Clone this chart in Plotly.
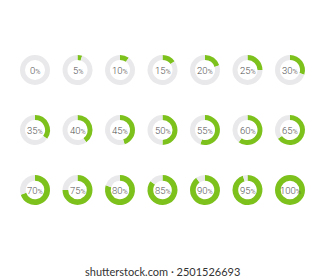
import plotly.graph_objects as go

percents = [0, 5, 10, 15, 20, 25, 30,
            35, 40, 45, 50, 55, 60, 65,
            70, 75, 80, 85, 90, 95, 100]
labels = ["0", "5", "10", "15", "20", "25", "30",
          "35", "40", "45", "50", "55", "60", "65",
          "70", "75", "80", "85", "90", "95", "100"]
watermark = "shutterstock.com · 2501526693"

W, H = 325, 280
col_x = [35, 77.5, 120, 162.5, 205, 247.5, 290]
row_y = [70, 130, 190]
row_hole = [0.67, 0.67, 0.62]
R = 15
GREEN = "#7cc11c"
GRAY = "#e9e9eb"

fig = go.Figure()
annotations = []
for i, (p, lab) in enumerate(zip(percents, labels)):
    r, c = divmod(i, 7)
    cx, cy = col_x[c], row_y[r]
    fig.add_trace(go.Pie(
        values=[p, 100 - p],
        marker=dict(colors=[GREEN, GRAY], line=dict(width=0)),
        hole=row_hole[r],
        sort=False,
        direction="clockwise",
        rotation=0,
        textinfo="none",
        hoverinfo="skip",
        showlegend=False,
        domain=dict(x=[(cx - R) / W, (cx + R) / W],
                    y=[1 - (cy + R) / H, 1 - (cy - R) / H]),
    ))
    annotations.append(dict(
        x=cx / W, y=1 - cy / H, xref="paper", yref="paper",
        text=f"{lab}<span style='font-size:7px'>%</span>",
        showarrow=False,
        font=dict(family="Roboto", size=9.5, color="#505050", weight=300),
        xanchor="center", yanchor="middle",
    ))

annotations.append(dict(
    x=162 / W, y=1 - 271 / H, xref="paper", yref="paper",
    text=watermark, showarrow=False,
    font=dict(family="Lato", size=11, color="#333333"),
    xanchor="center", yanchor="middle",
))

fig.update_layout(
    width=W, height=H,
    margin=dict(l=0, r=0, t=0, b=0),
    paper_bgcolor="white", plot_bgcolor="white",
    annotations=annotations,
)
fig.write_html("out.html")
